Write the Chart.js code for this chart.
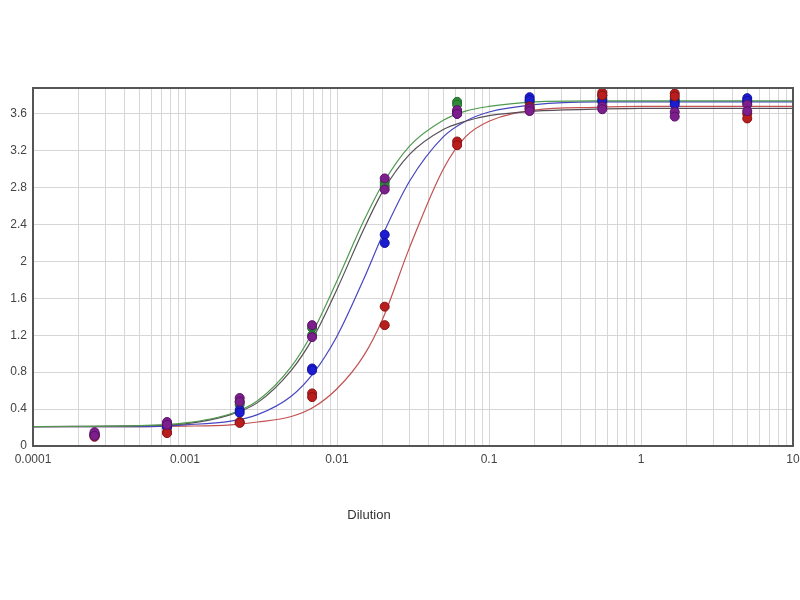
<!DOCTYPE html>
<html>
<head>
<meta charset="utf-8">
<script src="https://cdn.jsdelivr.net/npm/chart.js@4"></script>
<style>
  html, body { margin: 0; padding: 0; background: #fff; }
  #wrap { width: 800px; height: 600px; }
</style>
</head>
<body>
<div id="wrap"><canvas id="myChart" width="800" height="600"></canvas></div>
<script>
// dilution points (3-fold series)
var dilutions = [0.000254, 0.000762, 0.00229, 0.00686, 0.0206, 0.0617, 0.185, 0.556, 1.667, 5];

// two replicates per sample
var greenA  = [0.13, 0.24, 0.48, 1.28, 2.86, 3.73, 3.74, 3.76, 3.76, 3.74];
var greenB  = [0.11, 0.22, 0.45, 1.20, 2.82, 3.70, 3.72, 3.73, 3.74, 3.72];
var blueA   = [0.13, 0.22, 0.39, 0.84, 2.29, 3.62, 3.78, 3.80, 3.73, 3.77];
var blueB   = [0.12, 0.20, 0.36, 0.82, 2.20, 3.60, 3.75, 3.74, 3.70, 3.74];
var redA    = [0.12, 0.15, 0.26, 0.57, 1.51, 3.30, 3.68, 3.83, 3.82, 3.60];
var redB    = [0.10, 0.14, 0.25, 0.53, 1.31, 3.26, 3.65, 3.80, 3.79, 3.55];
var purpleA = [0.15, 0.26, 0.52, 1.31, 2.90, 3.64, 3.66, 3.68, 3.62, 3.70];
var purpleB = [0.11, 0.23, 0.48, 1.18, 2.78, 3.60, 3.63, 3.65, 3.57, 3.63];

// fitted curves
var curveX      = [0.0001, 0.0005, 0.001, 0.002, 0.003, 0.005, 0.007, 0.01, 0.015, 0.02, 0.03, 0.05, 0.07, 0.1, 0.2, 0.5, 1, 10];
var greenCurve  = [0.21, 0.22, 0.25, 0.35, 0.49, 0.86, 1.25, 1.79, 2.44, 2.84, 3.25, 3.53, 3.63, 3.68, 3.73, 3.74, 3.74, 3.74];
var purpleCurve = [0.21, 0.22, 0.24, 0.34, 0.47, 0.82, 1.18, 1.70, 2.35, 2.76, 3.16, 3.43, 3.52, 3.58, 3.63, 3.65, 3.66, 3.66];
var blueCurve   = [0.21, 0.21, 0.23, 0.27, 0.34, 0.54, 0.79, 1.19, 1.81, 2.29, 2.87, 3.35, 3.52, 3.62, 3.70, 3.73, 3.73, 3.73];
var redCurve    = [0.21, 0.21, 0.215, 0.23, 0.26, 0.32, 0.42, 0.62, 0.98, 1.38, 2.15, 3.00, 3.35, 3.52, 3.64, 3.67, 3.68, 3.68];

var yTicks = [0, 0.4, 0.8, 1.2, 1.6, 2, 2.4, 2.8, 3.2, 3.6];

function pts(xs, ys) {
  return xs.map(function (x, i) { return { x: x, y: ys[i] }; });
}

function curve(ys, color) {
  return {
    type: 'line', data: pts(curveX, ys), borderColor: color, borderWidth: 1.2, order: 10,
    pointRadius: 0, showLine: true, fill: false, cubicInterpolationMode: 'monotone'
  };
}

function dots(a, b, color, edge, order) {
  return {
    type: 'scatter', data: pts(dilutions, a).concat(pts(dilutions, b)), order: order,
    backgroundColor: color, borderColor: edge, borderWidth: 1, pointRadius: 4.5, showLine: false
  };
}

var frame = {
  id: 'frame',
  afterDraw: function (chart) {
    var ctx = chart.ctx, a = chart.chartArea;
    ctx.save();
    ctx.strokeStyle = '#555';
    ctx.lineWidth = 2;
    ctx.strokeRect(a.left, a.top, a.right - a.left, a.bottom - a.top);
    ctx.fillStyle = '#333';
    ctx.font = '13px "Liberation Sans", Arial, sans-serif';
    ctx.textAlign = 'center';
    ctx.textBaseline = 'middle';
    ctx.fillText('Dilution', 369, 515);
    ctx.restore();
  }
};

new Chart(document.getElementById('myChart').getContext('2d'), {
  data: {
    datasets: [
      curve(greenCurve, '#4f9a4f'),
      curve(purpleCurve, '#585058'),
      curve(blueCurve, '#4646c0'),
      curve(redCurve, '#c25050'),
      dots(greenA, greenB, '#2f8a3a', '#1f6a2a', 4),
      dots(blueA, blueB, '#1c1cd0', '#1010a0', 3),
      dots(redA, redB, '#b81e1e', '#8a1010', 2),
      dots(purpleA, purpleB, '#7c1f8c', '#5a1068', 1)
    ]
  },
  options: {
    responsive: false,
    animation: false,
    layout: { padding: { top: 88, right: 7, bottom: 0, left: 0 } },
    plugins: { legend: { display: false }, tooltip: { enabled: false } },
    scales: {
      x: {
        type: 'logarithmic', min: 0.0001, max: 10,
        afterFit: function (s) { s.height = 154; s.paddingLeft = 0; s.paddingRight = 0; },
        afterBuildTicks: function (s) {
          var t = [];
          for (var e = -4; e <= 1; e++) {
            for (var m = 1; m <= 9; m++) {
              var v = m * Math.pow(10, e);
              if (v <= 10.0001) t.push({ value: v });
            }
          }
          s.ticks = t;
        },
        grid: { color: '#d6d6d6', lineWidth: 1, drawTicks: false },
        border: { display: false },
        ticks: {
          autoSkip: false, maxRotation: 0, padding: 6, color: '#444',
          font: { size: 12, family: '"Liberation Sans", Arial, sans-serif' },
          callback: function (v) {
            var l = Math.log10(v);
            if (Math.abs(l - Math.round(l)) > 1e-6) return '';
            return ['0.0001', '0.001', '0.01', '0.1', '1', '10'][Math.round(l) + 4];
          }
        }
      },
      y: {
        min: 0, max: 3.88,
        afterFit: function (s) { s.width = 33; },
        afterBuildTicks: function (s) {
          s.ticks = yTicks.map(function (v) { return { value: v }; });
        },
        grid: { color: '#d6d6d6', lineWidth: 1, drawTicks: false },
        border: { display: false },
        ticks: {
          padding: 6, color: '#444',
          font: { size: 12, family: '"Liberation Sans", Arial, sans-serif' },
          callback: function (v) { return String(+v.toFixed(1)); }
        }
      }
    }
  },
  plugins: [frame]
});
</script>
</body>
</html>
